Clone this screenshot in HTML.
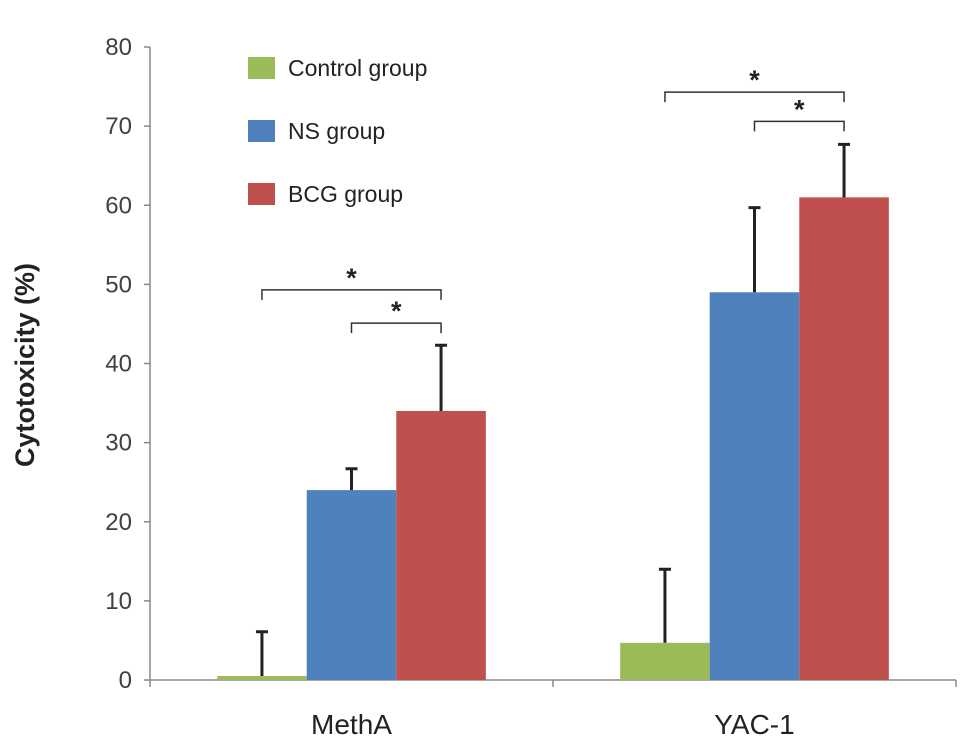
<!DOCTYPE html>
<html><head><meta charset="utf-8"><style>
body{margin:0;background:#fff}
svg{display:block;font-family:"Liberation Sans",Arial,sans-serif}
</style></head><body>
<svg id="chart" width="969" height="755"></svg>
<script>
const categories=["MethA","YAC-1"];
const seriesNames=["Control group","NS group","BCG group"];
const seriesColors=["#9bbb59","#4f81bd","#c0504d"];
const controlValues=[0.5,4.7];
const nsValues=[24,49];
const bcgValues=[34,61];
const controlErr=[5.6,9.3];
const nsErr=[2.7,10.7];
const bcgErr=[8.3,6.7];
const yTicks=[0,10,20,30,40,50,60,70,80];
const sigBrackets=[[0,0,2,49.3],[0,1,2,45.1],[1,0,2,74.3],[1,1,2,70.6]];
const NS="http://www.w3.org/2000/svg";
const svg=document.getElementById('chart');
const X0=150,X1=956,Y0=680,Y80=47;
const y=v=>Y0-(v/80)*(Y0-Y80);
const catW=(X1-X0)/categories.length;
const barW=catW/4.5;
const barX=(c,s)=>X0+c*catW+0.75*barW+s*barW;
function mk(t,a,txt){const e=document.createElementNS(NS,t);for(const k in a)e.setAttribute(k,a[k]);if(txt!==undefined)e.textContent=txt;svg.appendChild(e);return e;}
let e;
e=mk('line',{x1:X0,y1:Y80,x2:X0,y2:Y0,stroke:'#888','stroke-width':1.5});


yTicks.forEach(t=>{
 e=mk('line',{x1:X0-6,y1:y(t),x2:X0,y2:y(t),stroke:'#888','stroke-width':1.5});
 
 
 e=mk('text',{x:X0-18,y:y(t)+8,'text-anchor':'end','font-size':24,fill:'#404040'},t);
 
 
});
e=mk('line',{x1:X0,y1:Y0,x2:X1,y2:Y0,stroke:'#888','stroke-width':1.5});


for(let i=0;i<=categories.length;i++){
 e=mk('line',{x1:X0+i*catW,y1:Y0,x2:X0+i*catW,y2:Y0+7,stroke:'#888','stroke-width':1.5});
 
 
}
categories.forEach((c,i)=>{
 e=mk('text',{x:X0+(i+0.5)*catW,y:734,'text-anchor':'middle','font-size':28,fill:'#222'},c);
 
 
});
const vals=[controlValues,nsValues,bcgValues],errs=[controlErr,nsErr,bcgErr];
categories.forEach((c,ci)=>{
 vals.forEach((arr,si)=>{
  const v=arr[ci],x=barX(ci,si);
  e=mk('rect',{x:x,y:y(v),width:barW,height:Y0-y(v),fill:seriesColors[si]});
  
  
  const cx=x+barW/2,top=y(v+errs[si][ci]);
  e=mk('path',{d:`M${cx},${y(v)}V${top}M${cx-6},${top}H${cx+6}`,stroke:'#222','stroke-width':3,fill:'none'});
  
  
 });
});
sigBrackets.forEach(b=>{
 const xa=barX(b[0],b[1])+barW/2,xb=barX(b[0],b[2])+barW/2,yy=y(b[3]);
 e=mk('path',{d:`M${xa},${yy+10}V${yy}H${xb}V${yy+10}`,stroke:'#333','stroke-width':1.5,fill:'none'});
 
 
 e=mk('text',{x:(xa+xb)/2,y:yy-3,'text-anchor':'middle','font-size':27,'font-weight':'bold',fill:'#222'},'*');
 
 
});
const legY=[68,131,194];
seriesNames.forEach((n,i)=>{
 e=mk('rect',{x:248,y:legY[i]-11,width:27,height:22,fill:seriesColors[i]});
 
 
 e=mk('text',{x:288,y:legY[i]+8,'font-size':23,fill:'#222'},n);
 
 
});
e=mk('text',{x:0,y:0,transform:'translate(34,365) rotate(-90)','text-anchor':'middle','font-size':27,'font-weight':'bold',fill:'#222'},'Cytotoxicity (%)');


</script>
</body></html>
